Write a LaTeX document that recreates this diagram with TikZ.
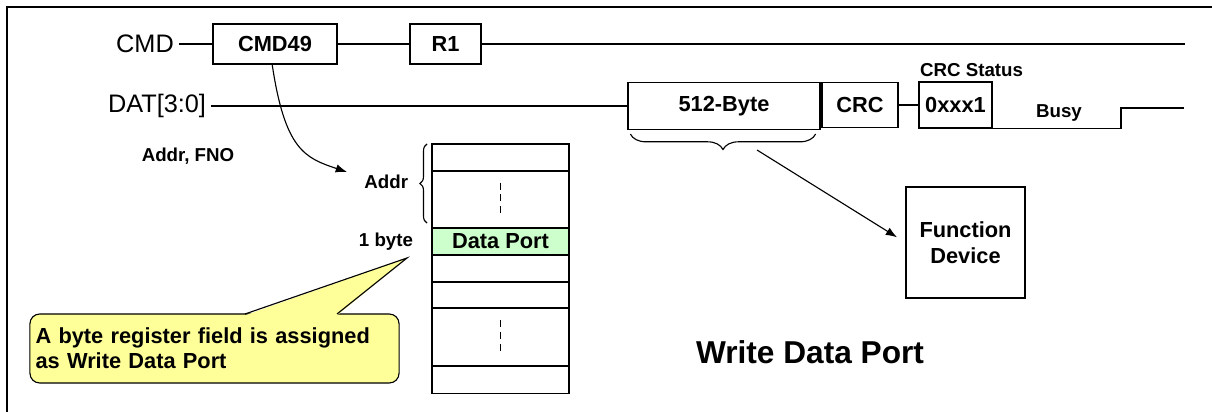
\documentclass[tikz,border=0pt]{standalone}
\usepackage{fontspec}
\setmainfont{Liberation Sans}
\usetikzlibrary{arrows.meta,decorations.pathreplacing,positioning}
\definecolor{noteyellow}{HTML}{FFFF99}
\definecolor{portgreen}{HTML}{CCFFCC}

\begin{document}
\begin{tikzpicture}[x=0.025cm,y=-0.025cm,
  sig/.style={font=\fontsize{18}{21}\selectfont},
  lbl/.style={font=\fontsize{13.3}{16}\selectfont\bfseries},
  pkt/.style={draw,line width=0.8pt,inner sep=0pt,font=\fontsize{15.5}{18}\selectfont\bfseries},
  reg/.style={draw,line width=0.8pt,minimum width=3.425cm,inner sep=0pt,outer sep=0pt},
  wire/.style={line width=0.8pt},
  >={Latex[length=8pt,width=6pt]}]
  \useasboundingbox (0,0) rectangle (1212,412);
  \draw[line width=1.4pt] (7,420) -- (7,7) -- (1220,7);
  % bus lines
  \node[sig] (cmdlbl) at (145,44) {CMD};
  \node[pkt,minimum width=3.1cm,minimum height=1cm] (cmd49) at (275,44) {CMD49};
  \node[pkt,minimum width=1.775cm,minimum height=1cm] (r1) at (445.5,44) {R1};
  \coordinate (cmdend) at (1185,44);
  \draw[wire] (cmdlbl) -- (cmd49);
  \draw[wire] (cmd49) -- (r1);
  \draw[wire] (r1) -- (cmdend);
  \node[sig] (datlbl) at (157,106) {DAT[3:0]};
  \node[pkt,minimum width=4.8cm,minimum height=1.175cm] (byte512) at (724,106) {512-Byte};
  \node[pkt,minimum width=1.9cm,minimum height=1.125cm] (crc) at (860,105) {CRC};
  \node[pkt,minimum width=1.825cm,minimum height=1.15cm] (status) at (955.5,105) {0xxx1};
  \node[lbl,anchor=south west,inner xsep=1pt] (statuslbl) at (status.north west) {CRC Status};
  \node[lbl] (busy) at (1059,113) {Busy};
  \coordinate (busystep) at (1121,108);
  \coordinate (busyend) at (1184,108);
  \draw[wire] (datlbl) -- (byte512);
  \draw[wire] (byte512) -- (crc);
  \draw[wire] (crc) -- (status);
  \draw[wire] (status.south east) -| (busystep) -- (busyend);
  % data to the device
  \draw[wire,decorate,decoration={brace,mirror,amplitude=11pt}]
    ([shift={(3,4)}]byte512.south west) -- ([shift={(-5,4)}]byte512.south east);
  \node[draw,line width=0.8pt,minimum width=2.975cm,minimum height=2.775cm,align=center,
    font=\fontsize{15.5}{18.5}\selectfont\bfseries] (fdev) at (965.5,242.5) {Function\\Device};
  \coordinate (fanout) at (757,150);
  \draw[wire,->,shorten >=7pt] (fanout) -- (fdev.west);
  \node[font=\fontsize{22.5}{27}\selectfont\bfseries] (title) at (810,352) {Write Data Port};
  % register map
  \node[reg,anchor=north west,minimum height=0.675cm] (reg1) at (432,144) {};
  \node[reg,minimum height=1.425cm,below=0pt of reg1] (reg2) {};
  \node[reg,fill=portgreen,minimum height=0.675cm,below=0pt of reg2,
    font=\fontsize{15.5}{18}\selectfont\bfseries] (port) {Data Port};
  \node[reg,minimum height=0.675cm,below=0pt of port] (reg4) {};
  \node[reg,minimum height=0.65cm,below=0pt of reg4] (reg5) {};
  \node[reg,minimum height=1.45cm,below=0pt of reg5] (reg6) {};
  \node[reg,minimum height=0.675cm,below=0pt of reg6] (reg7) {};
  \draw[wire,dash pattern=on 5pt off 3.5pt] (reg2.center) ++(0,-17) -- ++(0,34);
  \draw[wire,dash pattern=on 5pt off 3.5pt] (reg6.center) ++(0,-17) -- ++(0,34);
  \draw[wire,decorate,decoration={brace,amplitude=5pt}]
    ([shift={(-5,-5)}]reg2.south west) -- ([shift={(-5,0)}]reg1.north west);
  \node[lbl,anchor=east] (addrlbl) at (413,182) {Addr};
  \node[lbl,left=10pt of port] (bytelbl) {1 byte};
  \node[lbl] (fno) at (188,156) {Addr, FNO};
  \coordinate (addrtip) at (347,172);
  \draw[wire,->] ([xshift=-2pt]cmd49.south) .. controls (285,150) and (305,158) .. (addrtip);
  % callout
  \node[draw,line width=0.8pt,fill=noteyellow,rounded corners=7pt,minimum width=9.225cm,
    minimum height=1.725cm,inner xsep=4pt,text width=8.945cm,align=left,
    font=\fontsize{15.5}{17.8}\selectfont\bfseries] (note) at (214.5,348.5)
    {A byte register field is assigned\\as Write Data Port};
  \coordinate (ptrleft) at (245,314);
  \coordinate (ptrright) at (337,314);
  \coordinate (ptrtip) at (407,258);
  \fill[noteyellow] ([yshift=-1pt]ptrleft) -- (ptrtip) -- ([yshift=-1pt]ptrright) -- cycle;
  \draw[wire] (ptrleft) -- (ptrtip) -- (ptrright);
\end{tikzpicture}
\end{document}
